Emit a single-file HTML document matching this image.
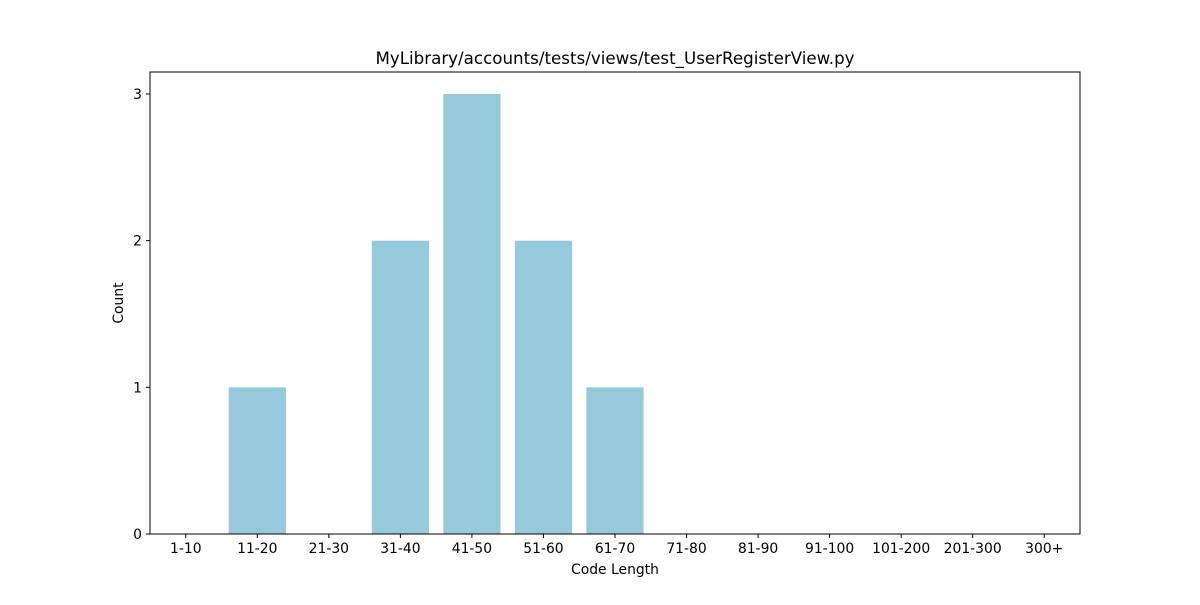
<!DOCTYPE html>
<html><head><meta charset="utf-8"><style>body{margin:0;background:#fff}</style></head>
<body>
<svg id="chart" width="1200" height="600" xmlns="http://www.w3.org/2000/svg" font-family="DejaVu Sans, Liberation Sans, sans-serif">
<rect width="1200" height="600" fill="#fff"/>
<text x="615" y="64" text-anchor="middle" font-size="16.7">MyLibrary/accounts/tests/views/test_UserRegisterView.py</text>
<g id="bars"></g>
<g id="axes"></g>
<text x="615" y="574" text-anchor="middle" font-size="13.9">Code Length</text>
<text x="123" y="303" text-anchor="middle" font-size="13.9" transform="rotate(-90 123 303)">Count</text>
</svg>
<script>
const categories=["1-10","11-20","21-30","31-40","41-50","51-60","61-70","71-80","81-90","91-100","101-200","201-300","300+"];
const counts=[0,1,0,2,3,2,1,0,0,0,0,0,0];
const yTicks=[0,1,2,3];
const L=150,R=1080,T=72,B=534,yMax=3.15;
const NS="http://www.w3.org/2000/svg";
const step=(R-L)/categories.length;
const xs=i=>L+step*(i+0.5);
const ys=v=>B-(B-T)*v/yMax;
const bars=document.getElementById('bars'),axes=document.getElementById('axes');
function mk(tag,attrs,parent){const e=document.createElementNS(NS,tag);for(const k in attrs)e.setAttribute(k,attrs[k]);parent.appendChild(e);return e;}
counts.forEach((v,i)=>{
 const r=mk('rect',{x:xs(i)-step*0.4,y:ys(v),width:step*0.8,height:B-ys(v),fill:'#96c9dc'},bars);
 
 
});
const frame=mk('rect',{x:L,y:T,width:R-L,height:B-T,fill:'none',stroke:'#000','stroke-width':1},axes);


categories.forEach((c,i)=>{
 mk('line',{x1:xs(i),x2:xs(i),y1:B,y2:B+4,stroke:'#000'},axes);
 const t=mk('text',{x:xs(i),y:B+19,'text-anchor':'middle','font-size':13.9},axes);
 t.textContent=c;
 
 
});
yTicks.forEach(v=>{
 mk('line',{x1:L-4,x2:L,y1:ys(v),y2:ys(v),stroke:'#000'},axes);
 const t=mk('text',{x:L-8,y:ys(v)+5,'text-anchor':'end','font-size':13.9},axes);
 t.textContent=v;
 
 
});
</script>
</body></html>
